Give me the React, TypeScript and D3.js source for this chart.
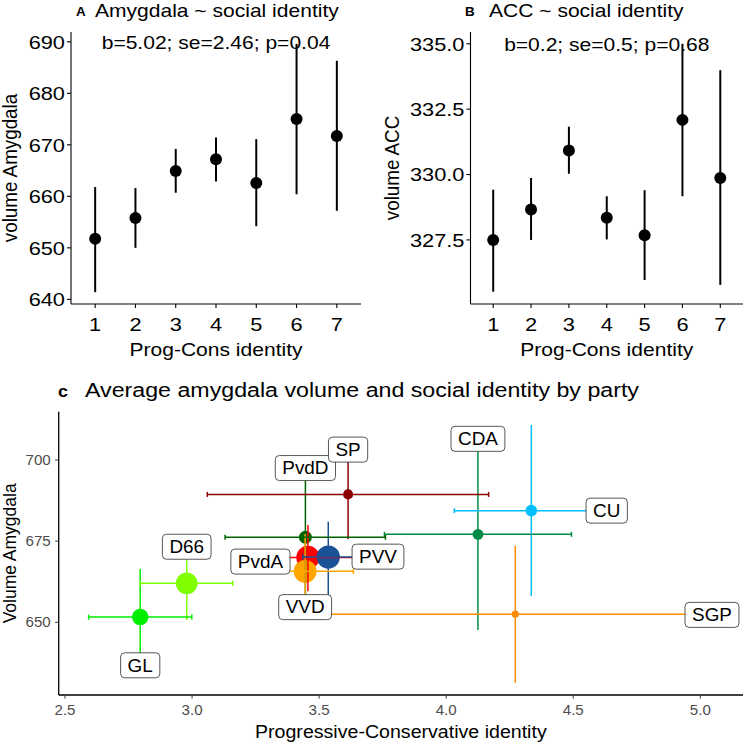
import React from "react";
import * as d3 from "d3";

// ---------- Panel A / B data ----------
const identityLevels = [1, 2, 3, 4, 5, 6, 7];
const amyMean = [651.75, 655.8, 664.9, 667.2, 662.6, 675.0, 671.7];
const amyLow = [641.4, 650.0, 660.7, 662.9, 654.2, 660.4, 657.2];
const amyHigh = [661.8, 661.6, 669.2, 671.4, 671.1, 689.6, 686.3];
const accMean = [327.5, 328.66, 330.92, 328.35, 327.68, 332.09, 329.87];
const accLow = [325.52, 327.5, 330.03, 327.52, 325.97, 329.17, 325.78];
const accHigh = [329.42, 329.87, 331.83, 329.17, 329.4, 335.0, 333.99];
const amyTicks = [640, 650, 660, 670, 680, 690];
const accTicks = [327.5, 330.0, 332.5, 335.0];
const amyStats = "b=5.02; se=2.46; p=0.04";
const accStats = "b=0.2; se=0.5; p=0.68";

// ---------- Panel C data ----------
const parties = ["CDA", "CU", "D66", "GL", "PvdA", "PvdD", "PVV", "SGP", "SP", "VVD"];
const partyColors = ["#008b45", "#00bfff", "#7fff00", "#00ee00", "#ff0000", "#006400", "#1b5196", "#ff8c00", "#8b0000", "#ffa500"];
const partyX = [4.125, 4.335, 2.979, 2.796, 3.456, 3.446, 3.536, 4.272, 3.614, 3.445];
const partyXLow = [3.757, 4.032, 2.797, 2.593, 3.28, 3.13, 3.436, 3.543, 3.06, 3.255];
const partyXHigh = [4.493, 4.638, 3.16, 2.999, 3.634, 3.761, 3.636, 5.0, 4.167, 3.635];
const partyY = [677.1, 684.4, 662.0, 651.6, 670.0, 676.2, 670.1, 652.5, 689.4, 665.7];
const partyYLow = [647.6, 658.1, 650.7, 636.8, 659.6, 657.5, 654.3, 631.4, 675.6, 654.2];
const partyYHigh = [706.6, 710.8, 673.3, 666.4, 680.0, 695.0, 681.0, 673.6, 703.2, 677.2];
const partyN = [7, 8, 28, 16, 32, 10, 32, 3, 6, 31];
const xTicksC = [2.5, 3.0, 3.5, 4.0, 4.5, 5.0];
const yTicksC = [650, 675, 700];
// label placement (repelled) offsets in px from point
const labelOffsets: [number, number][] = [
  [0, -95.5], [75.4, 0], [0, -36.6], [0, 48.2], [-47.5, 4.2],
  [0, -69.2], [49.7, -0.4], [196.7, 0.7], [0, -44.8], [0, 35.8],
];

const FONT = "'Liberation Sans', Arial, sans-serif";
const SX = 1.12;

function measure(text: string, size: number): number {
  try {
    const c = document.createElement("canvas").getContext("2d");
    if (c) {
      c.font = `${size}px 'Liberation Sans', Arial, sans-serif`;
      return c.measureText(text).width;
    }
  } catch (e) {}
  return text.length * size * 0.6;
}

type TProps = {
  x: number; y: number; children: React.ReactNode; size: number;
  anchor?: "start" | "middle" | "end"; weight?: string | number; fill?: string;
  rotate?: boolean; sx?: number; dy?: string;
};
const T = ({ x, y, children, size, anchor = "start", weight = "normal", fill = "#000", rotate = false, sx = SX, dy }: TProps) => (
  <text
    transform={rotate ? `translate(${x},${y}) rotate(-90) scale(1,${sx})` : `translate(${x},${y}) scale(${sx},1)`}
    fontSize={size}
    fontFamily={FONT}
    textAnchor={anchor}
    fontWeight={weight}
    fill={fill}
    dy={dy}
  >
    {children}
  </text>
);

type PanelProps = {
  letter: string; title: string; ylabel: string; stats: string;
  mean: number[]; low: number[]; high: number[]; ticks: number[];
  yDomain: [number, number]; left: number; right: number; tickFmt: (v: number) => string;
  ylabelX: number; letterX: number; titleX: number;
};

const DotPanel = (p: PanelProps) => {
  const top = 32, bottom = 304;
  const x = d3.scaleLinear().domain([0.4, 7.6]).range([p.left, p.right]);
  const y = d3.scaleLinear().domain(p.yDomain).range([bottom, top]);
  const fs = 18.8;
  return (
    <g>
      <T x={p.letterX} y={16} size={12} weight="bold">{p.letter}</T>
      <T x={p.titleX} y={16.5} size={fs}>{p.title}</T>
      {/* axes */}
      <line x1={p.left} x2={p.left} y1={top} y2={bottom} stroke="#000" strokeWidth={1.1} />
      <line x1={p.left} x2={p.right} y1={bottom} y2={bottom} stroke="#000" strokeWidth={1.1} />
      {p.ticks.map((t) => (
        <g key={t}>
          <line x1={p.left - 4} x2={p.left} y1={y(t)} y2={y(t)} stroke="#000" strokeWidth={1.1} />
          <T x={p.left - 6} y={y(t)} size={fs} anchor="end" dy="0.36em" sx={1.16}>{p.tickFmt(t)}</T>
        </g>
      ))}
      {identityLevels.map((v) => (
        <g key={v}>
          <line x1={x(v)} x2={x(v)} y1={bottom} y2={bottom + 4} stroke="#000" strokeWidth={1.1} />
          <T x={x(v)} y={330.5} size={fs} anchor="middle" sx={1.16}>{String(v)}</T>
        </g>
      ))}
      <T x={(p.left + p.right) / 2} y={355.5} size={fs} anchor="middle">Prog-Cons identity</T>
      <T x={p.ylabelX} y={(top + bottom) / 2} size={fs} anchor="middle" rotate sx={1.05}>{p.ylabel}</T>
      {/* data */}
      {identityLevels.map((v, i) => (
        <g key={"d" + v}>
          <line x1={x(v)} x2={x(v)} y1={y(p.low[i])} y2={y(p.high[i])} stroke="#000" strokeWidth={2} />
          <circle cx={x(v)} cy={y(p.mean[i])} r={6} fill="#000" />
        </g>
      ))}
      <T x={x(4)} y={y(p.ticks[p.ticks.length - 1])} size={fs} anchor="middle" dy="0.36em">{p.stats}</T>
    </g>
  );
};

const PartyPanel = () => {
  const left = 58.7, right = 743, top = 411.7, bottom = 695;
  const x = d3.scaleLinear().domain([2.5, 5.0]).range([65, 700.3]);
  const y = d3.scaleLinear().domain([650, 700]).range([622.3, 460]);
  const r = d3.scaleSqrt().domain([0, 34]).range([0, 12]);
  const order = d3.range(parties.length);
  const labFs = 17.5;
  const labSx = 1.08;
  return (
    <g>
      <T x={58} y={397} size={17} weight="bold" sx={1.05}>c</T>
      <T x={85} y={397} size={19.5} sx={1.19}>Average amygdala volume and social identity by party</T>
      <line x1={left} x2={left} y1={top} y2={bottom} stroke="#000" strokeWidth={1.3} />
      <line x1={left} x2={right} y1={bottom} y2={bottom} stroke="#000" strokeWidth={1.3} />
      {yTicksC.map((t) => (
        <g key={t}>
          <line x1={left - 3.5} x2={left} y1={y(t)} y2={y(t)} stroke="#333" strokeWidth={1} />
          <T x={left - 8} y={y(t)} size={14} anchor="end" fill="#4d4d4d" dy="0.36em" sx={1.08}>{String(t)}</T>
        </g>
      ))}
      {xTicksC.map((t) => (
        <g key={t}>
          <line x1={x(t)} x2={x(t)} y1={bottom} y2={bottom + 3.5} stroke="#333" strokeWidth={1} />
          <T x={x(t)} y={715} size={14} anchor="middle" fill="#4d4d4d" sx={1.08}>{t.toFixed(1)}</T>
        </g>
      ))}
      <T x={(left + right) / 2} y={738} size={17.5} anchor="middle">Progressive-Conservative identity</T>
      <T x={16} y={(top + bottom) / 2} size={17.5} anchor="middle" rotate sx={1.05}>Volume Amygdala</T>
      {/* points */}
      {order.map((i) => (
        <circle key={"p" + i} cx={x(partyX[i])} cy={y(partyY[i])} r={r(partyN[i])} fill={partyColors[i]} />
      ))}
      {/* vertical error bars */}
      {order.map((i) => (
        <line key={"v" + i} x1={x(partyX[i])} x2={x(partyX[i])} y1={y(partyYLow[i])} y2={y(partyYHigh[i])}
          stroke={partyColors[i]} strokeWidth={1.5} />
      ))}
      {/* horizontal error bars */}
      {order.map((i) => (
        <g key={"h" + i} stroke={partyColors[i]} strokeWidth={1.5}>
          <line x1={x(partyXLow[i])} x2={x(partyXHigh[i])} y1={y(partyY[i])} y2={y(partyY[i])} />
          <line x1={x(partyXLow[i])} x2={x(partyXLow[i])} y1={y(partyY[i]) - 2.5} y2={y(partyY[i]) + 2.5} />
          <line x1={x(partyXHigh[i])} x2={x(partyXHigh[i])} y1={y(partyY[i]) - 2.5} y2={y(partyY[i]) + 2.5} />
        </g>
      ))}
      {/* labels */}
      {order.map((i) => {
        const cx = x(partyX[i]) + labelOffsets[i][0];
        const cy = y(partyY[i]) + labelOffsets[i][1];
        const w = measure(parties[i], labFs) * labSx + 14;
        const h = 25;
        return (
          <g key={"l" + i}>
            <rect x={cx - w / 2} y={cy - h / 2} width={w} height={h} rx={4} fill="#fff" stroke="#444" strokeWidth={0.9} />
            <T x={cx} y={cy} size={labFs} anchor="middle" dy="0.36em" sx={labSx}>{parties[i]}</T>
          </g>
        );
      })}
    </g>
  );
};

export default function App() {
  return (
    <svg width={744} height={744} style={{ position: "absolute", left: 0, top: 0, background: "#fff" }}>
      <rect width={744} height={744} fill="#fff" />
      <DotPanel letter="A" title="Amygdala ~ social identity" ylabel="volume Amygdala" stats={amyStats}
        mean={amyMean} low={amyLow} high={amyHigh} ticks={amyTicks} yDomain={[639.1, 691.9]}
        left={71} right={361} tickFmt={(v) => String(v)} ylabelX={17} letterX={76} titleX={95} />
      <DotPanel letter="B" title="ACC ~ social identity" ylabel="volume ACC" stats={accStats}
        mean={accMean} low={accLow} high={accHigh} ticks={accTicks} yDomain={[325.05, 335.45]}
        left={470.5} right={743} tickFmt={(v) => v.toFixed(1)} ylabelX={399} letterX={465} titleX={489} />
      <PartyPanel />
    </svg>
  );
}
